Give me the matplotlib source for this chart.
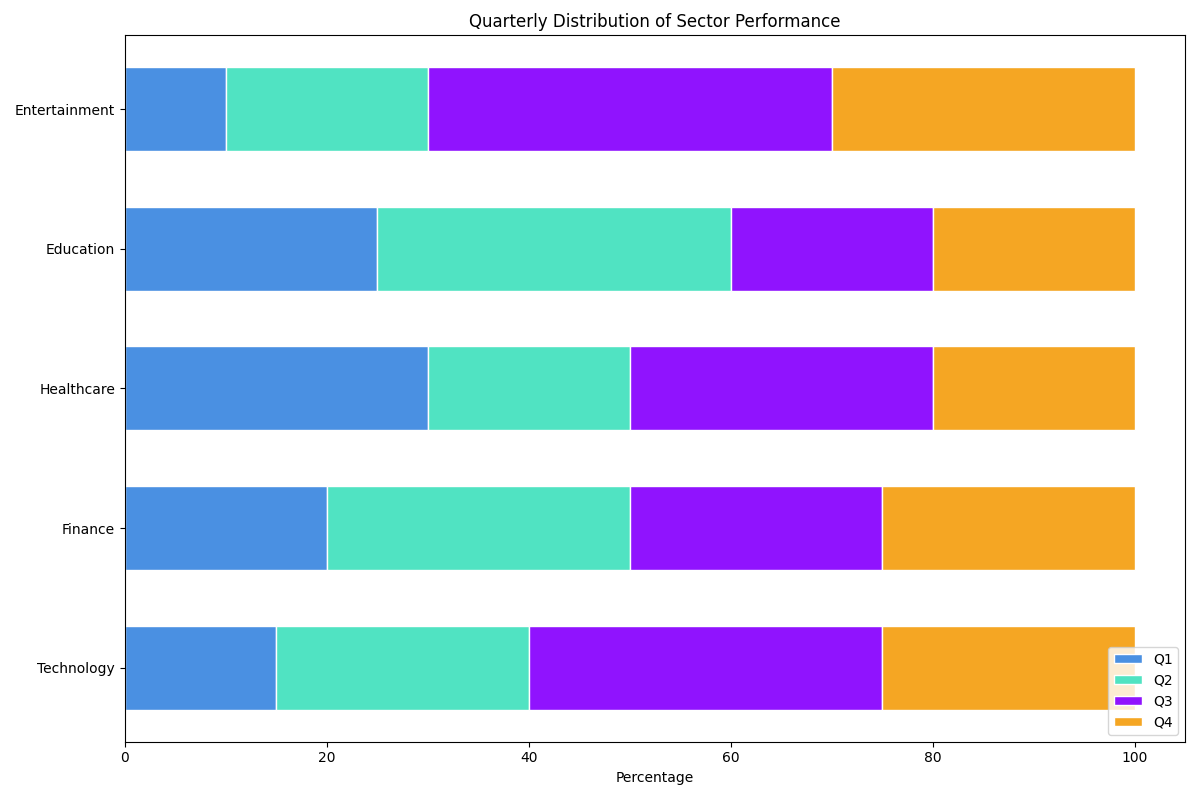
import matplotlib
matplotlib.use("Agg")
import matplotlib.pyplot as plt
import numpy as np

sectors = ["Technology", "Finance", "Healthcare", "Education", "Entertainment"]
quarters = ["Q1", "Q2", "Q3", "Q4"]
q1 = [15, 20, 30, 25, 10]
q2 = [25, 30, 20, 35, 20]
q3 = [35, 25, 30, 20, 40]
q4 = [25, 25, 20, 20, 30]
colors = ["#4A90E2", "#50E3C2", "#9013FE", "#F5A623"]

fig, ax = plt.subplots(figsize=(12, 8), dpi=100)
left = np.zeros(len(sectors))
for vals, name, c in zip([q1, q2, q3, q4], quarters, colors):
    ax.barh(sectors, vals, left=left, height=0.6, color=c, edgecolor="white", label=name)
    left += np.array(vals)

ax.set_title("Quarterly Distribution of Sector Performance")
ax.set_xlabel("Percentage")
ax.legend(loc="lower right")
fig.tight_layout()
fig.subplots_adjust(top=1 - 35 / 800)
fig.savefig("out.png")
